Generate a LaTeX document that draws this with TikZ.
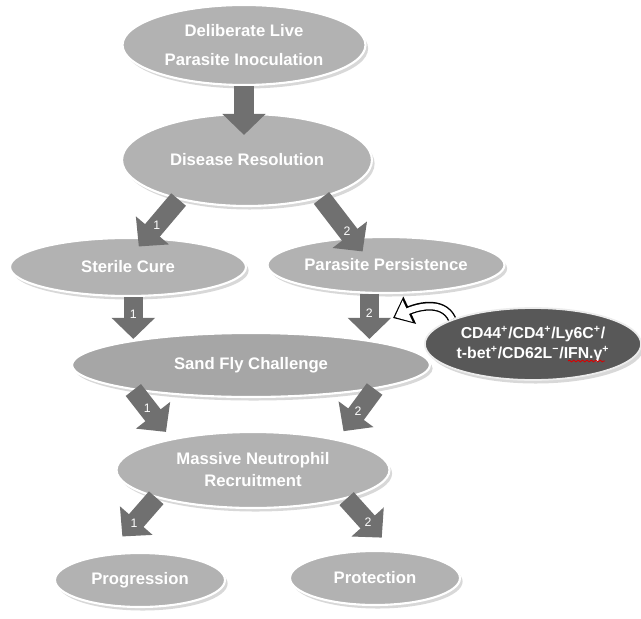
\documentclass[tikz,border=0pt]{standalone}
\usepackage{fontspec}
\setmainfont{Liberation Sans}
\usetikzlibrary{arrows.meta,shapes.geometric,shadows,backgrounds,decorations.pathmorphing}
\definecolor{stagegray}{RGB}{178,178,178}
\definecolor{flygray}{RGB}{166,166,166}
\definecolor{arrowgray}{RGB}{112,112,112}
\definecolor{markergray}{RGB}{88,88,88}
\begin{document}
\begin{tikzpicture}[x=0.02cm,y=-0.02cm,
  stage/.style={ellipse,draw=white,line width=1.2pt,fill=stagegray,text=white,inner sep=0pt,align=center,
    font=\bfseries\fontsize{9.5}{12.5}\selectfont,
    drop shadow={shadow xshift=1.5pt,shadow yshift=-2pt,opacity=0.3}},
  blk/.style={draw=arrowgray,line width=11pt,-{Triangle[length=12pt,width=24pt]}},
  num/.style={text=white,font=\fontsize{7}{8}\selectfont,inner sep=0pt},
  cdarrow/.style={draw=white,line width=3.4pt,shorten >=1.2pt,-{Triangle[length=8pt,width=13pt]},
    preaction={draw=black,line width=5pt,shorten >=0pt,-{Triangle[length=10.5pt,width=16.5pt]}}}]
\useasboundingbox (0,0) rectangle (641,618);
\node[stage,minimum width=4.86cm,minimum height=1.6cm] (top) at (244,45) {Deliberate Live\\[4.5pt]Parasite Inoculation};
\node[stage,minimum width=5cm,minimum height=1.84cm] (res) at (247,160) {Disease Resolution};
\node[stage,minimum width=4.72cm,minimum height=1.16cm] (cure) at (128,267) {Sterile Cure};
\node[stage,minimum width=4.74cm,minimum height=1.12cm] (pers) at (386,265) {Parasite Persistence};
\node[stage,fill=flygray,minimum width=7.16cm,minimum height=1.28cm] (fly) at (251,365) {Sand Fly Challenge};
\node[stage,minimum width=5.46cm,minimum height=1.52cm] (mnr) at (253,470) {Massive Neutrophil\\Recruitment};
\node[stage,minimum width=3.4cm,minimum height=1.08cm] (prog) at (140,580) {Progression};
\node[stage,minimum width=3.4cm,minimum height=1.08cm] (prot) at (375,578) {Protection};
\node[stage,fill=markergray,draw=white!85!gray,line width=1pt,font=\bfseries\fontsize{9}{11.3}\selectfont,
  minimum width=4.14cm,minimum height=1.44cm] (cd) at (533,344)
  {CD44\textsuperscript{+}/CD4\textsuperscript{+}/Ly6C\textsuperscript{+}/\\t-bet\textsuperscript{+}/CD62L\textsuperscript{−}/IFN.γ\textsuperscript{+}};
\coordinate (hint) at (393,318);
% block arrows
\draw[blk,shorten >=-0.44cm] (top.south) -- (top.south |- res.north);
\draw[blk,shorten >=-0.24cm] (res.210) -- (cure.58) node[num,pos=0.68]{1};
\draw[blk,shorten >=-0.36cm] (res.-27) -- (pers.141.5) node[num,pos=0.85]{2};
\draw[blk,shorten >=-0.14cm] (cure.-80) -- (cure.-80 |- fly.north) node[num,pos=0.5]{1};
\draw[blk,shorten >=-0.14cm] (pers.-120) -- (pers.-120 |- fly.north) node[num,pos=0.5]{2};
\draw[blk,shorten >=0.17cm] (fly.192) -- (mnr.159.5) node[num,pos=0.37]{1};
\draw[blk,shorten >=0.2cm] (fly.-11) -- (mnr.20.3) node[num,pos=0.45]{2};
\draw[blk,shorten >=0.47cm] (mnr.196) -- (prog.142) node[num,pos=0.45]{1};
\draw[blk,shorten >=0.35cm] (mnr.-17) -- (prot.56.8) node[num,pos=0.46]{2};
\draw[red!85!black,line width=0.5pt,decorate,decoration={snake,amplitude=0.5pt,segment length=2.5pt}]
  ([shift={(35,17)}]cd.center) -- ([shift={(72,17)}]cd.center);
\begin{scope}[on background layer]
\fill[white] (0,0) rectangle (641,618);
\draw[cdarrow] (cd.163) to[out=115,in=25] (hint);
\end{scope}
\end{tikzpicture}
\end{document}
